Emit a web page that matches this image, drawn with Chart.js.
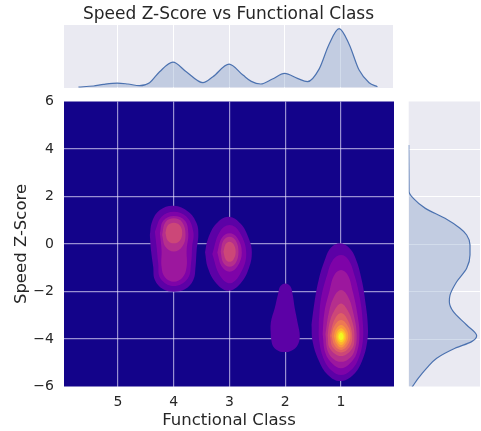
<!DOCTYPE html>
<html>
<head>
<meta charset="utf-8">
<script src="https://cdn.jsdelivr.net/npm/chart.js@4.4.1/dist/chart.umd.min.js"></script>
<style>
body { margin: 0; background: #fff; }
#wrap { position: relative; width: 481px; height: 431px; }
#wrap canvas { position: absolute; left: 0; top: 0; }
</style>
</head>
<body>
<div id="wrap">
  <canvas id="kde-main" width="481" height="431"></canvas>
  <canvas id="kde-top" width="481" height="431"></canvas>
  <canvas id="kde-right" width="481" height="431"></canvas>
</div>
<script>
const classTicks = [5, 4, 3, 2, 1]
const zTicks = [-6, -4, -2, 0, 2, 4, 6]

// marginal density along functional class (top panel)
const classGrid = [5.71, 5.44, 5.26, 5.01, 4.82, 4.61, 4.43, 4.25, 4.01, 3.77, 3.47, 3.29, 3.0, 2.75, 2.60, 2.43, 2.22, 2.0, 1.77, 1.59, 1.38, 1.20, 1.02, 0.84, 0.66, 0.48, 0.33]
const classDensity = [1, 4, 9, 13, 10, 5, 14, 47, 76, 47, 14, 32, 70, 37, 18, 10, 25, 42, 27, 17, 55, 130, 177, 130, 52, 14, 2]

// marginal density along speed z-score (right panel)
const zGrid = [4.17, 3.19, 2.48, 2.20, 1.92, 1.50, 1.08, 0.66, 0.38, -0.04, -0.46, -1.02, -1.59, -2.15, -2.43, -2.85, -3.41, -3.86, -4.11, -4.39, -4.81, -5.23, -5.65, -6.05]
const zDensity = [0, 0.5, 0.8, 1, 14, 50, 109, 154, 174, 184, 184, 174, 144, 124, 122, 134, 174, 204, 189, 139, 84, 54, 29, 9]

// filled kde contours, one ring per level: [functional class, z-score]
const fc4Rings = [
  [[4.0,1.61],[3.74,1.36],[3.59,0.87],[3.56,0.38],[3.59,-0.25],[3.61,-0.96],[3.65,-1.52],[3.80,-1.91],[4.0,-2.01],[4.19,-1.91],[4.34,-1.52],[4.37,-0.96],[4.41,-0.25],[4.43,0.38],[4.39,0.94],[4.25,1.43]],
  [[4.0,1.36],[3.77,1.15],[3.65,0.52],[3.67,-0.11],[3.69,-0.81],[3.75,-1.45],[4.0,-1.77],[4.24,-1.45],[4.28,-0.81],[4.31,-0.11],[4.34,0.52],[4.22,1.15]],
  [[4.0,1.18],[3.80,0.98],[3.74,0.45],[3.77,-0.25],[3.77,-0.96],[3.84,-1.40],[4.0,-1.59],[4.16,-1.40],[4.22,-0.96],[4.22,-0.25],[4.25,0.45],[4.19,0.98]],
  [[4.0,1.08],[3.85,0.92],[3.79,0.38],[3.85,-0.12],[4.0,-0.32],[4.15,-0.12],[4.21,0.38],[4.15,0.92]],
  [[4.0,0.90],[3.89,0.78],[3.85,0.47],[3.89,0.15],[4.0,0.03],[4.11,0.15],[4.15,0.47],[4.11,0.78]]
]
const fc3Rings = [
  [[3.02,1.15],[2.80,0.85],[2.65,0.2],[2.60,-0.35],[2.65,-1.0],[2.80,-1.65],[3.02,-1.97],[3.24,-1.65],[3.39,-1.0],[3.44,-0.35],[3.39,0.2],[3.24,0.85]],
  [[3.0,0.80],[2.82,0.5],[2.70,-0.42],[2.82,-1.30],[3.0,-1.65],[3.18,-1.30],[3.31,-0.42],[3.18,0.5]],
  [[3.0,0.45],[2.86,0.25],[2.78,-0.36],[2.86,-0.95],[3.0,-1.17],[3.14,-0.95],[3.22,-0.36],[3.14,0.25]],
  [[3.0,0.31],[2.89,0.15],[2.84,-0.33],[2.89,-0.80],[3.0,-0.96],[3.11,-0.80],[3.16,-0.33],[3.11,0.15]],
  [[3.0,0.10],[2.93,0.0],[2.89,-0.33],[2.93,-0.65],[3.0,-0.75],[3.07,-0.65],[3.11,-0.33],[3.07,0.0]]
]
const fc2Rings = [
  [[2.0,-1.66],[1.91,-1.78],[1.87,-2.1],[1.83,-2.7],[1.78,-3.3],[1.74,-3.9],[1.79,-4.3],[1.9,-4.5],[2.0,-4.55],[2.12,-4.5],[2.22,-4.3],[2.26,-3.9],[2.26,-3.3],[2.19,-2.7],[2.13,-2.1],[2.09,-1.78]]
]
const fc1Rings = [
  [[1.02,0.03],[0.86,-0.15],[0.74,-0.6],[0.63,-1.5],[0.56,-2.5],[0.52,-3.4],[0.53,-4.1],[0.62,-4.9],[0.78,-5.5],[1.02,-5.77],[1.24,-5.5],[1.40,-4.9],[1.51,-4.1],[1.53,-3.4],[1.48,-2.5],[1.40,-1.5],[1.28,-0.6],[1.18,-0.15]],
  [[1.0,-0.46],[0.87,-0.65],[0.76,-1.3],[0.66,-2.3],[0.61,-3.3],[0.61,-4.1],[0.70,-4.9],[0.84,-5.35],[1.0,-5.52],[1.16,-5.35],[1.30,-4.9],[1.39,-4.1],[1.40,-3.3],[1.36,-2.3],[1.25,-1.3],[1.14,-0.65]],
  [[1.0,-1.09],[0.88,-1.3],[0.79,-2.0],[0.71,-2.9],[0.67,-3.8],[0.72,-4.6],[0.85,-5.05],[1.0,-5.23],[1.15,-5.05],[1.28,-4.6],[1.33,-3.8],[1.30,-2.9],[1.21,-2.0],[1.12,-1.3]],
  [[1.0,-1.94],[0.88,-2.2],[0.78,-2.9],[0.72,-3.8],[0.76,-4.5],[0.87,-4.85],[1.0,-4.96],[1.13,-4.85],[1.24,-4.5],[1.28,-3.8],[1.22,-2.9],[1.12,-2.2]],
  [[1.0,-2.5],[0.88,-2.8],[0.79,-3.35],[0.76,-3.85],[0.80,-4.4],[1.0,-4.72],[1.20,-4.4],[1.24,-3.85],[1.21,-3.35],[1.12,-2.8]],
  [[1.0,-2.9],[0.88,-3.2],[0.80,-3.85],[0.85,-4.35],[1.0,-4.57],[1.15,-4.35],[1.20,-3.85],[1.12,-3.2]],
  [[1.0,-3.2],[0.88,-3.45],[0.83,-3.85],[0.88,-4.25],[1.0,-4.46],[1.12,-4.25],[1.17,-3.85],[1.12,-3.45]],
  [[1.0,-3.41],[0.91,-3.58],[0.87,-3.87],[0.91,-4.18],[1.0,-4.36],[1.09,-4.18],[1.13,-3.87],[1.09,-3.58]],
  [[1.0,-3.55],[0.93,-3.68],[0.904,-3.88],[0.93,-4.1],[1.0,-4.25],[1.07,-4.1],[1.096,-3.88],[1.07,-3.68]],
  [[1.0,-3.66],[0.95,-3.74],[0.934,-3.9],[0.95,-4.05],[1.0,-4.14],[1.05,-4.05],[1.066,-3.9],[1.05,-3.74]],
  [[1.0,-3.74],[0.968,-3.8],[0.955,-3.9],[0.968,-4.0],[1.0,-4.05],[1.032,-4.0],[1.045,-3.9],[1.032,-3.8]]
]

const levelColors = ['#5c01a6', '#7e03a8', '#9c179e', '#b52f8c', '#cc4778', '#de5f65', '#ed7953', '#f89540', '#fdb42f', '#fbd524', '#f0f921']

const textColor = '#262626'
const kdeBlue = '#4c72b0'
const classMin = 0.05, classMax = 5.97

Chart.defaults.font.family = "'DejaVu Sans', sans-serif"
Chart.defaults.color = textColor
Chart.defaults.animation = false
Chart.defaults.responsive = false
Chart.defaults.events = []
Chart.defaults.plugins.legend.display = false
Chart.defaults.plugins.tooltip.enabled = false

// paints the plot area before grid and datasets
const areaFill = {
    id: 'areaFill',
    beforeDraw(chart, args, opts) {
        const {ctx, chartArea: a} = chart
        ctx.save()
        ctx.fillStyle = opts.color
        ctx.fillRect(a.left, a.top, a.width, a.height)
        ctx.restore()
    }
}

// start each ring at its widest side so the closing joint is less visible
function ringData(ring) {
    let k = 0
    ring.forEach((p, i) => { if (p[0] > ring[k][0]) k = i })
    const r = ring.slice(k).concat(ring.slice(0, k + 1))
    return r.map(([x, y]) => ({x, y}))
}

let contourSets = []
;[fc4Rings, fc3Rings, fc2Rings, fc1Rings].forEach(rings => {
    rings.forEach((ring, lvl) => {
        contourSets.push({
            data: ringData(ring),
            backgroundColor: levelColors[lvl],
            borderWidth: 0,
            pointRadius: 0,
            fill: 'shape',
            tension: 0.4,
            order: 100 - lvl
        })
    })
})

const mainGrid = 'rgba(235,230,255,0.62)'

new Chart(document.getElementById('kde-main'), {
    type: 'line',
    data: {datasets: contourSets},
    plugins: [areaFill],
    options: {
        layout: {padding: {left: 0, top: 101.5, right: 87, bottom: 0}},
        plugins: {areaFill: {color: '#13038a'}},
        scales: {
            x: {
                type: 'linear', reverse: true, min: classMin, max: classMax,
                afterFit(s) { s.height = 44.5 },
                afterBuildTicks(s) { s.ticks = classTicks.map(v => ({value: v})) },
                grid: {color: mainGrid, lineWidth: 1.2, drawTicks: false},
                border: {display: false},
                ticks: {font: {size: 14}, color: textColor, padding: 7},
                title: {display: true, text: 'Functional Class', font: {size: 16.5}, color: textColor, padding: {top: 0, bottom: 0.5}}
            },
            y: {
                type: 'linear', min: -6, max: 6,
                afterFit(s) { s.width = 64 },
                afterBuildTicks(s) { s.ticks = zTicks.map(v => ({value: v})) },
                grid: {
                    color: c => (c.tick && Math.abs(c.tick.value) === 6) ? 'rgba(0,0,0,0)' : mainGrid,
                    lineWidth: 1.2, drawTicks: false
                },
                border: {display: false},
                ticks: {font: {size: 14}, color: textColor, padding: 10,
                    callback: v => String(v).replace('-', '\u2212')},
                title: {display: true, text: 'Speed Z-Score', font: {size: 16.5}, color: textColor, padding: {top: 11.5, bottom: 0}}
            }
        }
    }
})

new Chart(document.getElementById('kde-top'), {
    type: 'line',
    data: {
        datasets: [{
            data: classGrid.map((x, i) => ({x, y: classDensity[i]})),
            borderColor: kdeBlue,
            borderWidth: 1.2,
            backgroundColor: 'rgba(76,114,176,0.25)',
            fill: 'origin',
            pointRadius: 0,
            cubicInterpolationMode: 'monotone'
        }]
    },
    plugins: [areaFill],
    options: {
        layout: {padding: {left: 64, top: 0, right: 88, bottom: 343}},
        plugins: {
            areaFill: {color: '#eaeaf2'},
            title: {
                display: true, fullSize: false,
                text: 'Speed Z-Score vs Functional Class',
                font: {size: 17, weight: 'normal'}, color: textColor,
                padding: {top: 4, bottom: 0.6}
            }
        },
        scales: {
            x: {
                type: 'linear', reverse: true, min: classMin, max: classMax,
                afterFit(s) { s.height = 0 },
                afterBuildTicks(s) { s.ticks = classTicks.map(v => ({value: v})) },
                grid: {color: '#ffffff', lineWidth: 1, drawTicks: false},
                border: {display: false},
                ticks: {display: false}
            },
            y: {type: 'linear', min: -2, max: 188, display: false}
        }
    }
})

new Chart(document.getElementById('kde-right'), {
    type: 'line',
    data: {
        datasets: [{
            data: zGrid.map((y, i) => ({x: zDensity[i], y})),
            borderColor: kdeBlue,
            borderWidth: 1.2,
            backgroundColor: 'rgba(76,114,176,0.25)',
            fill: 'origin',
            pointRadius: 0,
            cubicInterpolationMode: 'monotone'
        }]
    },
    plugins: [areaFill],
    options: {
        indexAxis: 'y',
        layout: {padding: {left: 408.7, top: 101.5, right: 1, bottom: 44.5}},
        plugins: {areaFill: {color: '#eaeaf2'}},
        scales: {
            x: {type: 'linear', min: 0, max: 214, display: false},
            y: {
                type: 'linear', min: -6, max: 6,
                afterFit(s) { s.width = 0 },
                afterBuildTicks(s) { s.ticks = zTicks.map(v => ({value: v})) },
                grid: {
                    color: c => (c.tick && Math.abs(c.tick.value) === 6) ? 'rgba(0,0,0,0)' : '#ffffff',
                    lineWidth: 1, drawTicks: false
                },
                border: {display: false},
                ticks: {display: false}
            }
        }
    }
})
</script>
</body>
</html>
